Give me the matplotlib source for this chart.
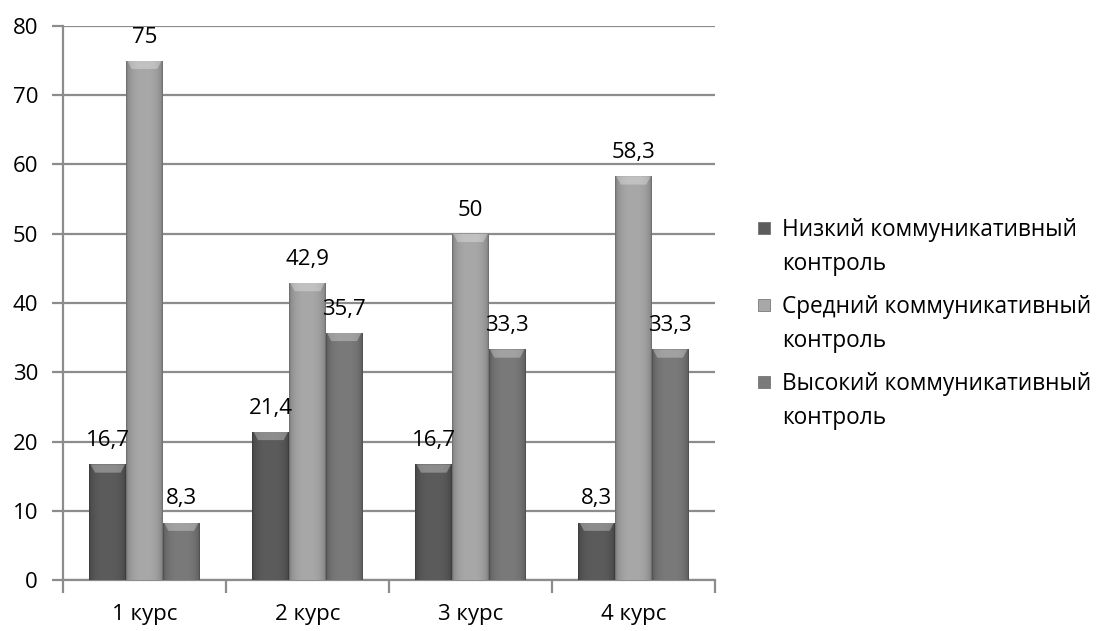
import numpy as np
import matplotlib
matplotlib.use("Agg")
import matplotlib.pyplot as plt
from matplotlib.patches import Rectangle, Polygon

plt.rcParams['font.family'] = ['Open Sans', 'DejaVu Sans']

categories = ["1 курс", "2 курс", "3 курс", "4 курс"]
series_names = ["Низкий коммуникативный\nконтроль",
                "Средний коммуникативный\nконтроль",
                "Высокий коммуникативный\nконтроль"]
low = [16.7, 21.4, 16.7, 8.3]
mid = [75, 42.9, 50, 58.3]
high = [8.3, 35.7, 33.3, 33.3]
label_text_low = ["16,7", "21,4", "16,7", "8,3"]
label_text_mid = ["75", "42,9", "50", "58,3"]
label_text_high = ["8,3", "35,7", "33,3", "33,3"]
yticks = [0, 10, 20, 30, 40, 50, 60, 70, 80]

series = [low, mid, high]
labels = [label_text_low, label_text_mid, label_text_high]
base_colors = [np.array([92, 92, 92]) / 255,
               np.array([168, 168, 168]) / 255,
               np.array([122, 122, 122]) / 255]

fig = plt.figure(figsize=(11, 6.31), dpi=100)
ax = fig.add_axes([63 / 1100, 1 - 580 / 631, (715 - 63) / 1100, (580 - 26) / 631])

grid_c = "#8c8c8c"
FS = 16
ax.set_ylim(0, 80)
ax.set_xlim(-0.5, 3.5)
ax.set_yticks(yticks)
ax.yaxis.grid(True, color=grid_c, linewidth=1.6)
ax.set_axisbelow(True)
for s in ["top", "right"]:
    ax.spines[s].set_visible(False)
for s in ["left", "bottom"]:
    ax.spines[s].set_color(grid_c)
    ax.spines[s].set_linewidth(1.6)
ax.tick_params(axis='y', length=8, width=1.6, color=grid_c, labelsize=FS, pad=10)
ax.set_xticks(np.arange(len(categories)))
ax.set_xticklabels(categories)
ax.tick_params(axis='x', length=0, labelsize=FS, pad=17)
ax.set_xticks(np.arange(len(categories) + 1) - 0.5, minor=True)
ax.tick_params(axis='x', which='minor', length=9, width=1.6, color=grid_c)

width = 0.225
x = np.arange(len(categories))

# horizontal bevel profile
prof = np.linspace(0, 1, 64)
shade = 1.0 - 0.22 * (np.abs(prof - 0.5) * 2) ** 3
shade[:2] *= 0.85
shade[-2:] *= 0.85

for i, (vals, labs, c) in enumerate(zip(series, labels, base_colors)):
    xs = x + (i - 1) * width
    bars = ax.bar(xs, vals, width, color=c, edgecolor='none', zorder=2)
    for b, lab in zip(bars, labs):
        x0, y0 = b.get_x(), b.get_y()
        w, h = b.get_width(), b.get_height()
        img = np.clip(c[None, None, :] * shade[None, :, None], 0, 1)
        img = np.repeat(img, 2, axis=0)
        im = ax.imshow(img, extent=(x0, x0 + w, y0, y0 + h), aspect='auto',
                       zorder=3, interpolation='bilinear')
        im.set_clip_path(b)
        # top bevel highlight (trapezoid)
        tb = min(1.2, h * 0.3)
        ins = w * 0.15
        ax.add_patch(Polygon([(x0 + w * 0.03, y0 + h), (x0 + w * 0.97, y0 + h),
                              (x0 + w - ins, y0 + h - tb), (x0 + ins, y0 + h - tb)],
                             closed=True, facecolor='white', alpha=0.3,
                             edgecolor='none', zorder=4))
        ax.annotate(lab, (x0 + w / 2, y0 + h), xytext=(0, 17),
                    textcoords='offset points', ha='center', va='center',
                    fontsize=FS, color='black', zorder=5)

# legend
legend_y = [228, 305, 382]
for name, c, ly in zip(series_names, base_colors, legend_y):
    fig.add_artist(Rectangle((758 / 1100, 1 - (ly + 6) / 631), 12 / 1100, 12 / 631,
                             transform=fig.transFigure, facecolor=c,
                             edgecolor='#666666', linewidth=0.5))
    fig.text(782 / 1100, 1 - (ly - 10) / 631, name, fontsize=16.3, va='top', ha='left',
             linespacing=1.55)

fig.savefig("out.png", dpi=100)
